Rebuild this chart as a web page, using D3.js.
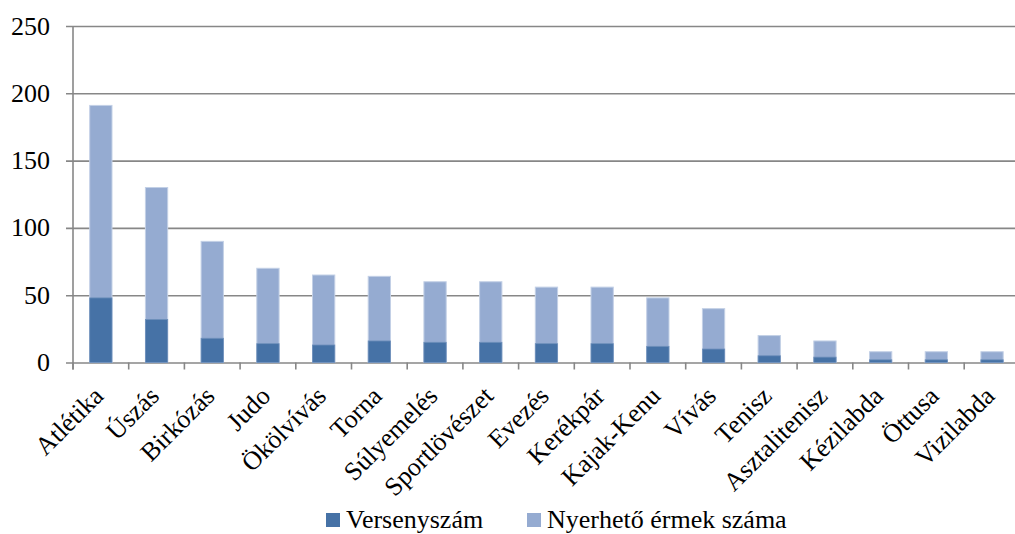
<!DOCTYPE html>
<html>
<head>
<meta charset="utf-8">
<script src="https://cdn.jsdelivr.net/npm/d3@7"></script>
<style>
  body { margin: 0; background: #fff; }
  svg { display: block; font-family: "Liberation Serif", "Times New Roman", serif; }
  .grid line { stroke: #878787; stroke-width: 1.6; }
  .grid path { display: none; }
</style>
</head>
<body>
<div id="chart"></div>
<script>
// sportagak, versenyszamok es a nyerheto ermek szama
var categories = ["Atlétika", "Úszás", "Birkózás", "Judo", "Ökölvívás", "Torna",
    "Súlyemelés", "Sportlövészet", "Evezés", "Kerékpár", "Kajak-Kenu", "Vívás",
    "Tenisz", "Asztalitenisz", "Kézilabda", "Öttusa", "Vizilabda"];
var versenyszam = [48, 32, 18, 14, 13, 16, 15, 15, 14, 14, 12, 10, 5, 4, 2, 2, 2];
var ermek = [191, 130, 90, 70, 65, 64, 60, 60, 56, 56, 48, 40, 20, 16, 8, 8, 8];
var yTicks = [0, 50, 100, 150, 200, 250];
var seriesNames = ["Versenyszám", "Nyerhető érmek száma"];
var colors = ["#4672a6", "#95abd1"];

var width = 1015, height = 534;
var margin = { top: 26, left: 73, bottom: 534 - 362.5 };
var plotRight = 73 + 17 * 55.7;

var svg = d3.select("#chart")
    .append("svg")
    .attr("width", width)
    .attr("height", height);

var x = d3.scaleBand()
    .domain(categories)
    .range([margin.left, plotRight])
    .paddingInner(0.6)
    .paddingOuter(0.3);

var y = d3.scaleLinear()
    .domain([0, 250])
    .range([height - margin.bottom, margin.top]);

// vizszintes racsvonalak
svg.append("g")
    .attr("class", "grid")
    .attr("transform", "translate(" + (margin.left - 7) + ",0)")
    .call(d3.axisRight(y)
        .tickValues(yTicks)
        .tickSize(plotRight - margin.left + 7)
        .tickFormat(""));

// y tengely feliratai
svg.append("g")
    .selectAll("text")
    .data(yTicks)
    .enter()
    .append("text")
    .attr("x", 50)
    .attr("y", function (d) { return y(d); })
    .attr("dy", "0.33em")
    .attr("text-anchor", "end")
    .style("font-size", "26px")
    .style("fill", "#000")
    .text(function (d) { return d; });

// y tengely vonala
svg.append("line")
    .attr("x1", margin.left).attr("x2", margin.left)
    .attr("y1", y(250)).attr("y2", y(0) + 7)
    .style("stroke", "#878787")
    .style("stroke-width", 1.6);

// x tengely osztasai (kategoriak hataran)
var step = x.step();
svg.append("g")
    .selectAll("line")
    .data(d3.range(categories.length + 1))
    .enter()
    .append("line")
    .attr("x1", function (i) { return margin.left + i * step; })
    .attr("x2", function (i) { return margin.left + i * step; })
    .attr("y1", y(0))
    .attr("y2", y(0) + 7)
    .style("stroke", "#878787")
    .style("stroke-width", 1.6);

// nyerheto ermek (hatso oszlop)
svg.append("g")
    .selectAll("rect")
    .data(ermek)
    .enter()
    .append("rect")
    .attr("x", function (d, i) { return x(categories[i]); })
    .attr("y", function (d) { return y(d); })
    .attr("width", x.bandwidth())
    .attr("height", function (d) { return y(0) - y(d); })
    .style("fill", colors[1])
    .style("stroke", "#c3d0e6")
    .style("stroke-width", 1);

// versenyszamok (elso oszlop)
svg.append("g")
    .selectAll("rect")
    .data(versenyszam)
    .enter()
    .append("rect")
    .attr("x", function (d, i) { return x(categories[i]); })
    .attr("y", function (d) { return y(d); })
    .attr("width", x.bandwidth())
    .attr("height", function (d) { return y(0) - y(d); })
    .style("fill", colors[0])
    .style("stroke", "#6f90bb")
    .style("stroke-width", 0.8);

// x tengely feliratai, 45 fokban elforgatva
svg.append("g")
    .selectAll("text")
    .data(categories)
    .enter()
    .append("text")
    .attr("transform", function (d) {
        return "translate(" + (x(d) + x.bandwidth() / 2 + 4) + "," + (y(0) + 35) + ") rotate(-45)";
    })
    .attr("text-anchor", "end")
    .style("font-size", "26px")
    .style("fill", "#000")
    .text(function (d) { return d; });

// jelmagyarazat
var legendX = [326, 527];
var legend = svg.append("g")
    .selectAll("g")
    .data(seriesNames)
    .enter()
    .append("g")
    .attr("transform", function (d, i) { return "translate(" + legendX[i] + ",513)"; });

legend.append("rect")
    .attr("width", 14)
    .attr("height", 14)
    .style("fill", function (d, i) { return colors[i]; });

legend.append("text")
    .attr("x", 20)
    .attr("y", 15)
    .style("font-size", "26px")
    .style("fill", "#000")
    .text(function (d) { return d; });
</script>
</body>
</html>
